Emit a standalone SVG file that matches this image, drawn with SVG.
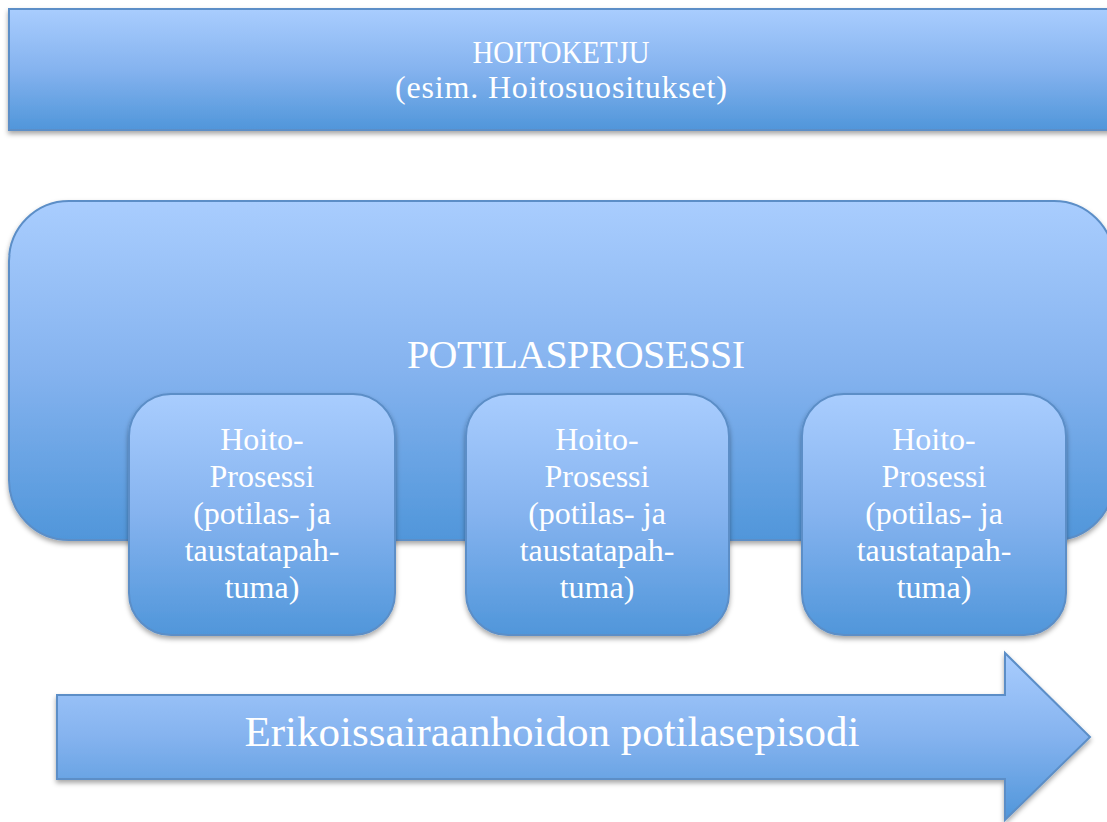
<svg xmlns="http://www.w3.org/2000/svg" width="1107" height="822" viewBox="0 0 1107 822">
<defs>
<linearGradient id="g" x1="0" y1="0" x2="0" y2="1">
<stop offset="0" stop-color="#a9cdfe"/>
<stop offset="0.5" stop-color="#85b3ef"/>
<stop offset="1" stop-color="#5096da"/>
</linearGradient>
<filter id="sh" x="-5%" y="-5%" width="110%" height="115%">
<feDropShadow dx="0" dy="3" stdDeviation="2.5" flood-color="#000" flood-opacity="0.35"/>
</filter>
<style>
.shape{fill:url(#g);stroke:#5b8ec7;stroke-width:2;filter:url(#sh)}
.t{fill:#fff;font-family:"Liberation Serif","DejaVu Serif",serif;text-anchor:middle}
</style>
</defs>
<rect width="1107" height="822" fill="#fff"/>
<g id="hoitoketju">
<rect class="shape" x="9" y="9" width="1110" height="121"/>
<text class="t" x="561" y="63" font-size="32" textLength="177" lengthAdjust="spacingAndGlyphs">HOITOKETJU</text>
<text class="t" x="561" y="98" font-size="32" textLength="332" lengthAdjust="spacing">(esim. Hoitosuositukset)</text>
</g>
<g id="potilasprosessi">
<rect class="shape" x="9" y="201" width="1105" height="339" rx="60" ry="60"/>
<text class="t" x="576" y="368" font-size="40" textLength="338" lengthAdjust="spacing">POTILASPROSESSI</text>
</g>
<g id="hoitoprosessi1">
<rect class="shape" x="129" y="394" width="266" height="241" rx="42" ry="42"/>
<text class="t" font-size="32"><tspan x="262" y="450">Hoito-</tspan><tspan x="262" y="487">Prosessi</tspan><tspan x="262" y="524">(potilas- ja</tspan><tspan x="262" y="561">taustatapah-</tspan><tspan x="262" y="598">tuma)</tspan></text>
</g>
<g id="hoitoprosessi2">
<rect class="shape" x="466" y="394" width="263" height="241" rx="42" ry="42"/>
<text class="t" font-size="32"><tspan x="597" y="450">Hoito-</tspan><tspan x="597" y="487">Prosessi</tspan><tspan x="597" y="524">(potilas- ja</tspan><tspan x="597" y="561">taustatapah-</tspan><tspan x="597" y="598">tuma)</tspan></text>
</g>
<g id="hoitoprosessi3">
<rect class="shape" x="802" y="394" width="264" height="241" rx="42" ry="42"/>
<text class="t" font-size="32"><tspan x="934" y="450">Hoito-</tspan><tspan x="934" y="487">Prosessi</tspan><tspan x="934" y="524">(potilas- ja</tspan><tspan x="934" y="561">taustatapah-</tspan><tspan x="934" y="598">tuma)</tspan></text>
</g>
<g id="connectors">
<g id="episodi">
<path class="shape" d="M57,695 H1005 V653 L1090,737 L1005,820 V779 H57 Z"/>
<text class="t" x="552" y="746" font-size="43">Erikoissairaanhoidon potilasepisodi</text>
</g>
</g>
</svg>
